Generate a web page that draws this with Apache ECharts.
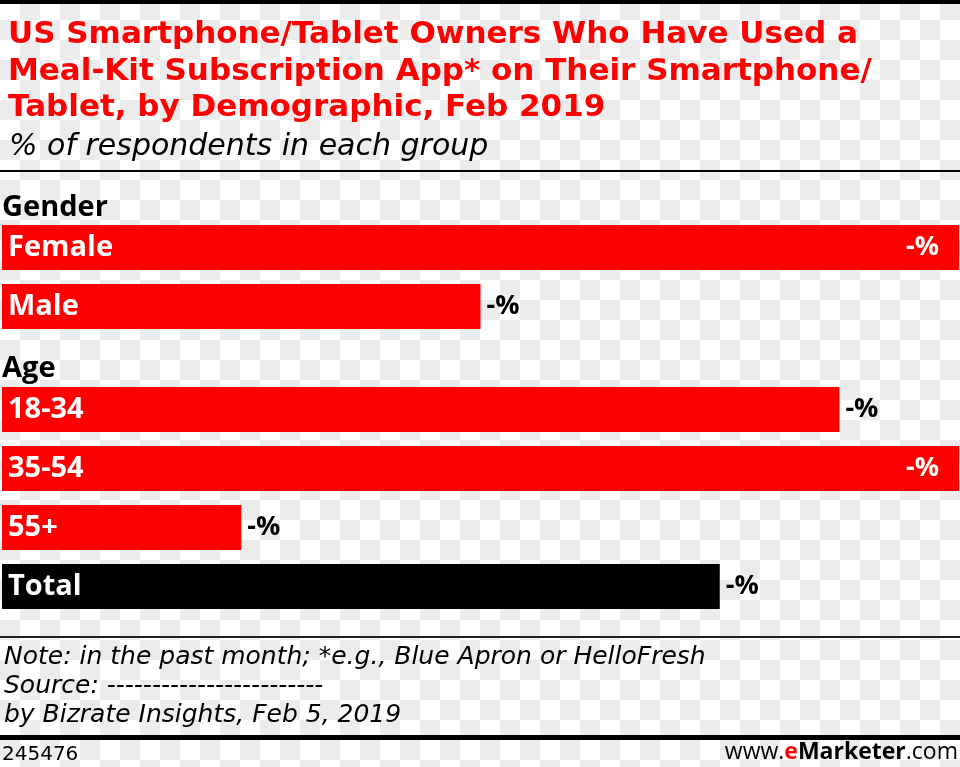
<!DOCTYPE html>
<html>
<head>
<meta charset="utf-8">
<script src="https://cdn.jsdelivr.net/npm/echarts@6/dist/echarts.min.js"></script>
<style>
html,body{margin:0;padding:0;}
body{width:960px;height:767px;overflow:hidden;background-color:#fff;
background-image:conic-gradient(#ececec 0 25%, #fff 0 50%, #ececec 0 75%, #fff 0);
background-size:40px 40px;}
#chart{width:960px;height:767px;}
</style>
</head>
<body>
<div id="chart"></div>
<script>
// ---- data ----
var titleLines = ['US Smartphone/Tablet Owners Who Have Used a', 'Meal-Kit Subscription App* on Their Smartphone/', 'Tablet, by Demographic, Feb 2019'];
var subtitle = '% of respondents in each group';
var groupNames = ['Gender', 'Age'];
var genderCategories = ['Female', 'Male'];
var genderValues = [100, 50];
var genderLabels = ['-%', '-%'];
var ageCategories = ['18-34', '35-54', '55+', 'Total'];
var ageValues = [87.5, 100, 25, 75];
var ageLabels = ['-%', '-%', '-%', '-%'];
var noteLines = ['Note: in the past month; *e.g., Blue Apron or HelloFresh', 'Source: ------------------------', 'by Bizrate Insights, Feb 5, 2019'];
var chartId = '245476';

var RED = '#ff0000';
var MAX = 100;
var FONT = '"Open Sans", "DejaVu Sans", sans-serif';
var WIDE = '"DejaVu Sans", sans-serif';

function barItems(cats, vals) {
  return vals.map(function (v, i) {
    return { value: v, name: cats[i], itemStyle: { color: cats[i] === 'Total' ? '#000' : RED } };
  });
}
function valueItems(vals, labels) {
  return vals.map(function (v, i) {
    var full = v >= MAX * 0.95;
    return {
      value: v,
      label: {
        show: true,
        formatter: labels[i],
        position: full ? 'insideRight' : 'right',
        distance: full ? 20 : 6,
        color: full ? '#fff' : '#000'
      }
    };
  });
}
var nameLabel = {
  show: true, position: 'insideLeft', distance: 6, formatter: '{b}',
  color: '#fff', fontWeight: 'bold', fontSize: 29, fontFamily: FONT
};
var valueLabelBase = { fontWeight: 'bold', fontSize: 27, fontFamily: FONT };

function makeSeries(idx, cats, vals, labels) {
  return [
    {
      type: 'bar', xAxisIndex: idx, yAxisIndex: idx, barWidth: 45,
      data: barItems(cats, vals), label: nameLabel, silent: true, z: 2
    },
    {
      type: 'bar', xAxisIndex: idx, yAxisIndex: idx, barWidth: 45, barGap: '-100%',
      itemStyle: { color: 'rgba(0,0,0,0)' },
      label: valueLabelBase,
      data: valueItems(vals, labels), silent: true, z: 3
    }
  ];
}

var chart = echarts.init(document.getElementById('chart'), null, { renderer: 'canvas' });
var option = {
  backgroundColor: 'transparent',
  animation: false,
  title: [
    {
      text: titleLines.join('\n'), left: 3, top: 12,
      textStyle: { color: RED, fontSize: 31, fontWeight: 'bold', fontFamily: WIDE, lineHeight: 36.5 }
    },
    {
      text: subtitle, left: 4, top: 127,
      textStyle: { color: '#000', fontSize: 30, fontStyle: 'italic', fontWeight: 'normal', fontFamily: WIDE }
    }
  ],
  grid: [
    { left: 2, right: 1, top: 218, height: 118 },
    { left: 2, right: 1, top: 380, height: 236 }
  ],
  xAxis: [
    { type: 'value', gridIndex: 0, min: 0, max: MAX, show: false },
    { type: 'value', gridIndex: 1, min: 0, max: MAX, show: false }
  ],
  yAxis: [
    { type: 'category', gridIndex: 0, data: genderCategories, inverse: true, show: false },
    { type: 'category', gridIndex: 1, data: ageCategories, inverse: true, show: false }
  ],
  series: makeSeries(0, genderCategories, genderValues, genderLabels)
    .concat(makeSeries(1, ageCategories, ageValues, ageLabels)),
  graphic: [
    { type: 'rect', shape: { x: 0, y: 0, width: 960, height: 4 }, style: { fill: '#000' } },
    { type: 'rect', shape: { x: 0, y: 170, width: 960, height: 2 }, style: { fill: '#000' } },
    { type: 'text', left: 2, top: 193, style: { text: groupNames[0], fill: '#000', font: 'bold 29px ' + FONT } },
    { type: 'text', left: 2, top: 354, style: { text: groupNames[1], fill: '#000', font: 'bold 29px ' + FONT } },
    { type: 'rect', shape: { x: 0, y: 636, width: 960, height: 2 }, style: { fill: '#222' } },
    { type: 'text', left: 4, top: 643, style: { text: noteLines.join('\n'), fill: '#000', font: 'italic 25px ' + WIDE, lineHeight: 29 } },
    { type: 'rect', shape: { x: 0, y: 735, width: 960, height: 5 }, style: { fill: '#000' } },
    { type: 'text', left: 2, top: 745, style: { text: chartId, fill: '#000', font: '20px ' + WIDE } },
    { type: 'text', right: 2, top: 741, style: {
        text: '{a|www.}{b|e}{c|Marketer}{a|.com}',
        rich: {
          a: { fill: '#000', font: '23px ' + FONT },
          b: { fill: RED, font: 'bold 23px ' + FONT },
          c: { fill: '#000', font: 'bold 23px ' + FONT }
        }
    } }
  ]
};
chart.setOption(option);
</script>
</body>
</html>
